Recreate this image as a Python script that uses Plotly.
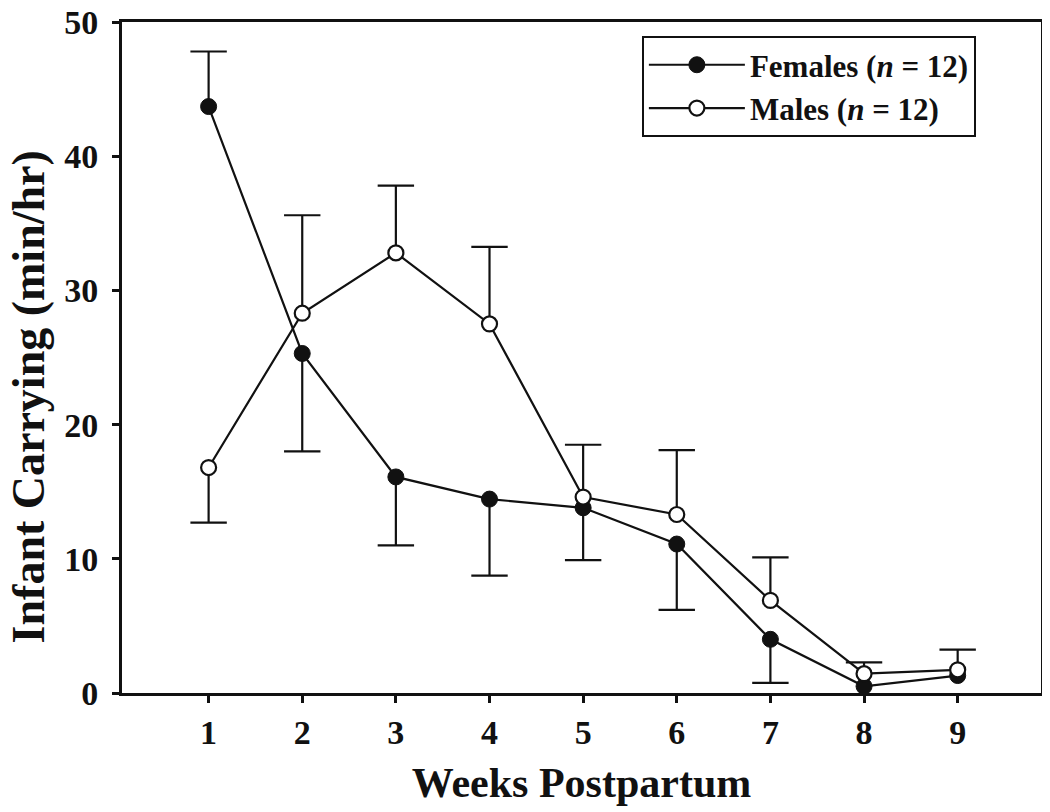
import plotly.graph_objects as go

weeks = [1, 2, 3, 4, 5, 6, 7, 8, 9]
tick_labels = ["1", "2", "3", "4", "5", "6", "7", "8", "9"]

female_mean = [43.7, 25.3, 16.1, 14.45, 13.8, 11.1, 4.0, 0.5, 1.3]
female_err_up = [4.1, 0, 0, 0, 0, 0, 0, 0, 0]
female_err_down = [0, 7.3, 5.1, 5.7, 3.9, 4.9, 3.25, 0, 0]

male_mean = [16.8, 28.3, 32.8, 27.5, 14.6, 13.3, 6.9, 1.44, 1.73]
male_err_up = [0, 7.3, 5.0, 5.75, 3.9, 4.8, 3.2, 0.84, 1.5]
male_err_down = [4.1, 0, 0, 0, 0, 0, 0, 0, 0]

FONT = "Liberation Serif"
BLACK = "#111111"


def cap_points(x, mean, up, down):
    cx, cy = [], []
    for xi, m, u, d in zip(x, mean, up, down):
        if u > 0:
            cx.append(xi)
            cy.append(m + u)
        if d > 0:
            cx.append(xi)
            cy.append(m - d)
    return cx, cy


fig = go.Figure()

# caps of the error bars
for mean, up, down in [(female_mean, female_err_up, female_err_down),
                       (male_mean, male_err_up, male_err_down)]:
    cx, cy = cap_points(weeks, mean, up, down)
    fig.add_trace(go.Scatter(
        x=cx, y=cy, mode="markers", showlegend=False, hoverinfo="skip",
        marker=dict(symbol="line-ew", size=26, color=BLACK,
                    line=dict(width=2.2, color=BLACK)),
    ))

fig.add_trace(go.Scatter(
    x=weeks, y=female_mean, mode="lines+markers",
    name="Females (<i>n</i> = 12)",
    line=dict(color=BLACK, width=2.2),
    marker=dict(symbol="circle", size=16, color=BLACK,
                line=dict(width=1, color=BLACK)),
    error_y=dict(type="data", symmetric=False, array=female_err_up,
                 arrayminus=female_err_down, width=0, thickness=2.2,
                 color=BLACK),
))

fig.add_trace(go.Scatter(
    x=weeks, y=male_mean, mode="lines+markers",
    name="Males (<i>n</i> = 12)",
    line=dict(color=BLACK, width=2.2),
    marker=dict(symbol="circle", size=15, color="white",
                line=dict(width=2.2, color=BLACK)),
    error_y=dict(type="data", symmetric=False, array=male_err_up,
                 arrayminus=male_err_down, width=0, thickness=2.2,
                 color=BLACK),
))

# page body adds an 8px margin, so the figure is 8px smaller and shifted
fig.update_layout(
    template="none",
    width=1042, height=804,
    margin=dict(l=114, r=9, t=14, b=119, autoexpand=False),
    paper_bgcolor="white", plot_bgcolor="white",
    font=dict(family=FONT, color=BLACK, weight="bold"),
    showlegend=True,
    legend=dict(
        x=0.5657, y=0.979, xanchor="left", yanchor="top",
        bordercolor=BLACK, borderwidth=2, bgcolor="white",
        font=dict(family=FONT, size=31, color=BLACK, weight="bold"),
        tracegroupgap=0, itemwidth=96,
    ),
    xaxis=dict(
        automargin=False,
        range=[0.075, 9.89], tickmode="array", tickvals=weeks,
        ticktext=tick_labels, ticks="outside", ticklen=7, tickwidth=2.5,
        tickcolor=BLACK, showline=True, linecolor=BLACK, linewidth=2.7,
        mirror=True, showgrid=False, zeroline=False,
        tickfont=dict(family=FONT, size=34, color=BLACK, weight="bold"),
        ticklabelstandoff=0, ticklabeloverflow="allow",
        title=dict(text="Weeks Postpartum", standoff=18,
                   font=dict(family=FONT, size=42, color=BLACK, weight="bold")),
    ),
    yaxis=dict(
        automargin=False,
        range=[0, 50], tickmode="array", tickvals=[0, 10, 20, 30, 40, 50],
        ticks="outside", ticklen=7, tickwidth=2.5, tickcolor=BLACK,
        showline=True, linecolor=BLACK, linewidth=2.7, mirror=True,
        showgrid=False, zeroline=False,
        tickfont=dict(family=FONT, size=34, color=BLACK, weight="bold"),
        ticklabelstandoff=7, ticklabeloverflow="allow",
    ),
    annotations=[dict(
        text="Infant Carrying (min/hr)", textangle=-90,
        xref="paper", yref="paper", x=-0.1023, y=0.442,
        xanchor="center", yanchor="middle", showarrow=False,
        font=dict(family=FONT, size=46, color=BLACK, weight="bold"),
    )],
)

fig.write_html("out.html")
